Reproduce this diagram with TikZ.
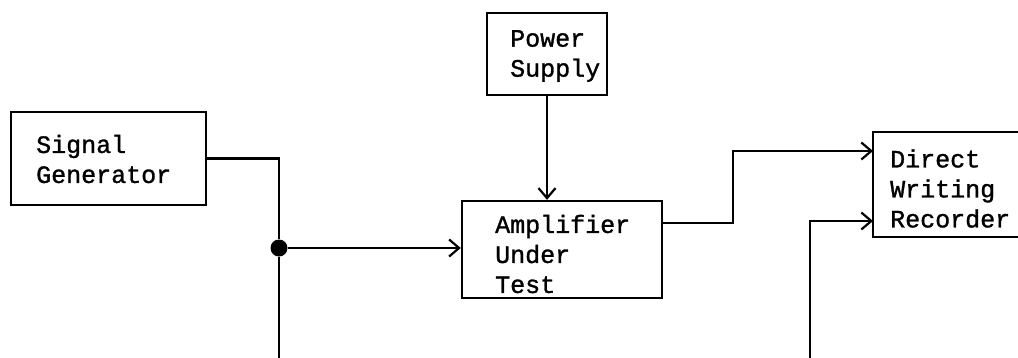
\documentclass[tikz,border=0pt]{standalone}
\usepackage{fontspec}
\newfontfamily\typewriter[FakeBold=1.2]{Liberation Mono}
\usetikzlibrary{arrows.meta}
\begin{document}
\begin{tikzpicture}[x=1pt,y=-1pt,
  box/.style={draw,line width=2.4pt,rectangle,inner sep=0pt},
  label text/.style={anchor=west,inner sep=0pt,align=left,
    font=\typewriter\fontsize{25}{30}\selectfont},
  wire/.style={line width=2.4pt},
  feed/.style={wire,-{Straight Barb[length=10pt,width=17pt,line width=2.2pt]}},
  junction/.style={circle,fill,inner sep=0pt,minimum size=17pt}]
\useasboundingbox (0,0) rectangle (1018,357);
\clip (0,0) rectangle (1018,357);

% blocks
\node[box,minimum width=195pt,minimum height=93pt] (sg) at (108.5,158.5) {};
\node[box,minimum width=120pt,minimum height=82pt] (ps) at (547,54) {};
\node[box,minimum width=200pt,minimum height=97pt] (amp) at (562,249.5) {};
\node[box,minimum width=159pt,minimum height=105pt] (rec) at (952.5,184.5) {};

% block captions
\node[label text] (sgtext) at (36,159) {Signal\\Generator};
\node[label text] (pstext) at (510,56) {Power\\Supply};
\node[label text] (amptext) at (495,254) {Amplifier\\Under\\Test};
\node[label text] (rectext) at (890,188.5) {Direct\\Writing\\Recorder};

% junction and wiring points
\node[junction] (dot) at (279,248) {};
\coordinate (bl) at (279,362);
\coordinate (br) at (810,362);
\coordinate (jog) at (733,0);
\coordinate (ampout) at (662,223);
\coordinate (rin1) at (873,151);
\coordinate (rin2) at (873,221);

% connections
\draw[wire] (sg.east) -| (dot);
\draw[wire] (dot) -- (bl);
\draw[feed] (dot) -- (dot -| amp.west);
\draw[feed] (ps.south) -- (ps.south |- amp.north);
\draw[feed] (ampout) -| (jog |- rin1) -- (rin1);
\draw[feed] (br) |- (rin2);
\end{tikzpicture}
\end{document}
